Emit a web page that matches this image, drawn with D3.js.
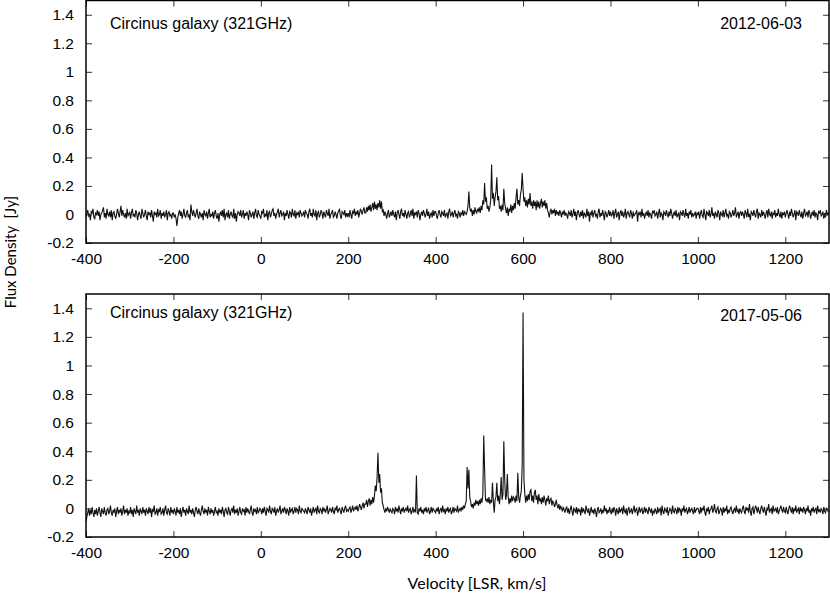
<!DOCTYPE html>
<html>
<head>
<meta charset="utf-8">
<script src="https://cdn.jsdelivr.net/npm/d3@7"></script>
<style>
  body { margin: 0; background: #fff; }
  svg { display: block; }
  .tick text { font-family: "Liberation Sans", Arial, sans-serif; font-size: 15.5px; fill: #000; }
  .tick line { stroke: #333; }
</style>
</head>
<body>
<div id="chart"></div>
<script>
// channel grid of both spectra (km/s)
const velocityStart = -400
const velocityStep = 2

// flux density, in units of 0.01 Jy, one value per 2 km/s channel
// each line is 20 km/s, each block 100 km/s
const flux2012 = [
  -2,1,3,-1,0,-4,2,1,4,-2,
  -3,1,0,3,-1,2,-4,0,1,3,
  5,-2,1,-3,4,0,-1,2,-2,3,
  -4,1,2,-1,-3,0,4,1,-2,2,
  6,-1,3,0,-2,1,-3,4,-1,0,

  2,-3,1,4,-1,0,-2,3,1,-4,
  0,2,-1,-3,4,1,-2,0,3,-1,
  -4,2,0,1,-2,3,-1,-5,2,0,
  1,-2,4,-1,0,3,-3,1,-1,2,
  -2,0,3,-4,1,2,-1,0,-3,1,

  1,-2,0,-3,-8,-2,1,3,-1,2,
  -3,0,4,-1,-2,1,3,-2,0,-4,
  7,2,-1,3,0,-2,1,4,-1,-3,
  2,0,-2,1,-4,3,0,-1,2,-3,
  1,4,-2,0,-1,2,-3,1,3,-1,

  -3,1,-5,0,2,-1,3,-2,4,-4,
  0,1,-2,3,-3,0,2,-1,-2,4,
  -3,1,-5,0,2,1,-1,3,-2,0,
  3,-3,1,-1,2,0,-4,3,1,-2,
  0,2,-3,1,4,-1,-2,3,0,-1,

  -3,2,1,4,-2,0,-1,3,-4,1,
  2,-2,0,3,4,-1,1,-3,0,2,
  4,-2,1,3,-1,0,2,-4,1,-1,
  3,0,-3,2,1,-2,4,0,-1,3,
  -3,1,0,2,-2,3,1,-1,0,2,

  -2,3,1,0,-3,2,4,-1,1,-2,
  4,0,-1,3,-4,1,2,-2,0,3,
  1,-3,2,0,-2,3,1,-1,4,-3,
  0,1,3,-2,-1,2,0,-3,1,2,
  4,-1,-3,2,1,0,3,-2,1,-1,

  1,-2,3,0,-3,2,1,4,-1,2,
  0,3,-2,1,4,2,0,3,5,1,
  1,5,2,6,3,7,2,5,8,3,
  9,4,7,3,8,5,10,4,9,2,
  3,-1,2,0,-3,1,3,-2,0,2,

  -1,3,0,-2,2,-4,1,3,0,-3,
  2,4,-1,1,-2,3,0,-3,1,2,
  -2,0,3,-1,4,-3,1,0,2,-2,
  3,1,-4,0,2,-1,3,1,-2,0,
  4,-1,2,-3,0,1,-2,3,-1,2,

  2,-1,-3,1,3,0,-2,2,1,-1,
  3,-2,0,1,-3,2,4,-1,0,2,
  -2,1,3,-1,0,-3,2,1,-2,1,
  0,3,-1,2,1,0,2,6,16,5,
  2,4,-1,3,0,5,2,1,4,2,

  5,1,6,3,10,7,22,9,12,4,
  6,2,5,10,35,11,15,6,12,16,
  26,10,13,4,6,2,7,3,18,8,
  4,1,5,-1,4,2,7,1,6,3,
  8,4,12,18,7,10,6,14,17,29,

  18,9,12,6,10,5,11,7,15,6,
  9,4,10,6,9,3,10,5,9,4,
  8,11,5,9,6,10,4,8,3,1,
  -2,2,4,0,3,1,4,-1,3,0,
  2,-1,3,1,-2,2,0,3,-1,1,

  0,-3,2,1,-1,3,-2,0,4,-1,
  2,-4,1,3,0,-2,2,-1,3,-3,
  1,0,-2,4,-1,2,-5,1,0,3,
  -2,1,3,-1,0,-3,2,4,-2,1,
  -1,3,0,-4,2,1,-2,0,3,-1,

  2,-1,0,3,-3,1,4,-2,0,2,
  -4,1,3,-1,2,-2,0,4,-3,1,
  2,0,-2,3,1,-3,2,-1,0,1,
  3,-5,1,0,2,-2,4,-1,1,-3,
  0,2,-1,3,-2,1,0,-3,2,1,

  3,-1,0,2,-3,1,4,-2,1,0,
  -4,2,1,-1,3,0,-2,2,-1,4,
  1,-3,0,2,-1,3,-2,0,1,-4,
  2,1,-1,3,0,-2,4,-1,1,-3,
  2,0,3,-2,1,-1,0,2,-3,1,

  0,2,-3,1,3,-1,-2,4,0,-4,
  2,1,-1,3,-2,0,5,-1,1,-3,
  2,0,-2,3,1,-4,2,0,-1,3,
  -2,1,4,-1,0,-3,2,1,-2,0,
  3,-1,1,5,-2,0,2,-3,1,2,

  -1,2,0,-3,3,1,-2,4,-1,0,
  -4,2,1,-1,3,0,-2,2,4,-3,
  1,0,-2,3,-1,2,0,-3,1,3,
  -2,4,0,-1,2,-3,1,0,3,-2,
  1,-1,4,0,-2,2,-3,1,0,2,

  -2,1,3,0,-3,2,-1,4,1,-2,
  0,3,-4,2,1,-1,3,0,-2,2,
  -3,1,4,-1,0,2,-2,3,1,-3,
  0,2,-1,3,-2,1,0,-4,2,1,
  3,-1,0,2,-3,1,-2,3,0,1,

  0
]

const flux2017 = [
  -9,-6,-3,0,-5,-1,-4,1,-3,-6,
  -1,-4,0,-5,-2,1,-3,-6,0,-2,
  -4,1,-3,-5,-1,0,-4,-2,2,-3,
  -5,-1,-3,0,-6,-2,1,-4,-1,-3,
  0,-5,-2,2,-4,-1,-3,0,-5,-2,

  -3,1,-4,-1,-6,0,-2,-4,2,-3,
  -1,-5,0,-2,-4,1,-3,-1,-5,0,
  -2,-4,1,-3,0,-6,-1,-2,2,-4,
  -3,0,-5,-1,-2,1,-4,-3,0,-5,
  -1,2,-3,-4,0,-2,-5,1,-3,-1,

  -4,0,-2,-5,1,-3,-1,-4,0,-6,
  -2,1,-3,-1,-5,0,-2,-4,2,-3,
  -1,-4,0,-3,-6,-1,1,-2,-4,0,
  -3,-5,-1,2,-2,-4,0,-3,-1,-5,
  1,-2,-4,0,-3,-1,-5,-2,1,-3,

  -2,-5,0,-3,-1,-4,1,-2,-6,-1,
  0,-3,-4,1,-2,-5,-1,0,-3,2,
  -4,-1,-3,0,-5,-2,1,-3,-4,0,
  -2,-1,-5,1,-3,0,-2,-4,-1,2,
  -3,-5,0,-2,-1,-4,1,-3,-2,0,

  -1,-4,0,-3,1,-2,-5,0,-1,-3,
  2,-2,-4,0,-1,-3,1,-5,-2,0,
  -3,-1,2,-4,-2,0,-3,1,-1,-4,
  0,-2,-5,1,-3,-1,0,-4,-2,1,
  -3,0,-1,-4,2,-2,-3,0,-1,-2,

  -3,0,-2,-4,1,-1,-3,0,-5,-2,
  1,-3,-1,0,-4,2,-2,-3,0,-1,
  -4,1,-2,0,-3,-1,2,-4,-2,0,
  -1,-3,1,-2,-4,0,-1,2,-3,-1,
  0,-2,-4,1,-1,-3,0,2,-2,-1,

  -2,0,1,-3,-1,2,-2,0,1,-1,
  2,-2,0,3,1,-1,2,4,0,3,
  3,6,1,5,7,2,6,3,8,4,
  9,16,12,22,39,18,24,11,14,4,
  2,-1,-3,0,-2,1,-1,-3,0,-2,

  -3,0,-1,-4,1,-2,0,-3,2,-1,
  -4,0,-2,1,-3,-1,0,-2,2,-3,
  -1,0,-4,-2,1,-3,-1,-2,23,-3,
  -4,0,-2,1,-3,-1,-4,0,-2,1,
  -3,-1,0,-4,-2,1,-3,0,-1,-2,

  -3,0,-2,1,-4,-1,0,-3,2,-2,
  -1,-4,0,-2,1,-3,-1,0,-4,-2,
  1,-3,0,-1,-2,2,-3,-1,0,-2,
  1,-1,2,0,3,5,29,14,27,8,
  5,1,3,0,4,2,6,3,5,2,

  6,3,7,4,10,51,28,6,5,7,
  4,8,3,6,4,18,5,-3,6,8,
  18,5,9,3,10,22,6,10,47,20,
  6,9,24,8,3,7,4,9,5,8,
  7,4,9,5,25,8,4,9,12,30,

  137,20,10,4,9,5,10,6,12,13,
  5,9,4,11,13,6,9,3,10,5,
  7,3,8,4,9,6,2,7,5,9,
  3,6,7,2,5,4,1,3,6,2,
  0,3,-1,2,0,-2,1,-1,-3,0,

  1,-3,0,-4,-1,2,-2,-5,0,-1,
  -3,1,-4,0,-2,-1,-5,1,-3,0,
  -2,-4,2,-1,-3,0,-5,-2,1,-3,
  -1,-4,0,-2,-6,-1,1,-3,-2,0,
  -4,-1,-3,2,-2,0,-4,-1,-3,1,

  -2,-4,0,-3,1,-1,-5,0,-2,-4,
  1,-3,-1,0,-4,2,-2,-3,0,-5,
  -1,1,-3,-2,0,-4,-1,2,-3,-1,
  0,-5,-2,1,-3,-1,0,-4,-2,1,
  -3,0,-2,-4,1,-1,-3,0,-5,-2,

  -3,0,-2,-4,1,-3,-1,0,-5,2,
  -2,-4,0,-1,-3,1,-5,-2,0,-1,
  -4,2,-2,-3,0,-1,-4,1,-3,0,
  -1,-5,0,-2,2,-3,-1,0,-4,-2,
  1,-3,-1,0,-2,-4,1,-3,-1,0,

  0,-2,-4,1,-3,0,-1,2,-3,-5,
  0,-2,1,-4,-1,0,2,-3,-1,3,
  -2,-3,0,1,-4,-2,0,-1,-5,1,
  -3,0,-2,2,-4,-1,-3,0,1,-2,
  -4,-1,0,-3,2,-2,-1,-4,0,-2,

  -3,0,2,-2,-4,1,-1,0,-3,3,
  -2,-5,0,1,-4,-1,2,0,-3,1,
  -2,-4,0,2,-1,-3,1,-2,-5,0,
  -1,3,-3,-1,0,-4,2,-2,-1,0,
  -3,1,-4,-2,0,2,-1,-3,1,-2,

  -3,1,-2,-4,0,2,-1,-3,1,-4,
  0,-2,2,-3,-1,0,-4,1,-2,0,
  -3,1,-1,-4,0,-2,2,-3,-1,-5,
  0,-2,1,-3,-1,0,-4,2,-2,-1,
  -3,0,-1,-4,1,-2,-3,0,-1,-2,

  -2
]

const xTicks = [-400, -200, 0, 200, 400, 600, 800, 1000, 1200]
const yTicks = [-0.2, 0, 0.2, 0.4, 0.6, 0.8, 1, 1.2, 1.4]
const panelTitles = ['Circinus galaxy (321GHz)', 'Circinus galaxy (321GHz)']
const panelDates = ['2012-06-03', '2017-05-06']

const width = 830
const height = 596
const left = 86, right = 829
const panels = [
  { top: 0.5, bottom: 243, flux: flux2012, title: panelTitles[0], date: panelDates[0], titleY: 29, dateY: 29 },
  { top: 294, bottom: 537, flux: flux2017, title: panelTitles[1], date: panelDates[1], titleY: 318, dateY: 321 }
]

const svg = d3.select('#chart').append('svg')
  .attr('width', width)
  .attr('height', height)

const x = d3.scaleLinear().domain([-400, 1300]).range([left, right])

panels.forEach((p, pi) => {
  const y = d3.scaleLinear().domain([-0.2, 1.5]).range([p.bottom, p.top])
  const g = svg.append('g')

  // clip so the spectrum stays in the frame
  g.append('clipPath').attr('id', 'clip' + pi)
    .append('rect')
      .attr('x', left).attr('y', p.top)
      .attr('width', right - left).attr('height', p.bottom - p.top)

  const points = p.flux.map((f, i) => ({ v: velocityStart + i * velocityStep, f: f / 100 }))
  const line = d3.line().x(d => x(d.v)).y(d => y(d.f))

  g.append('path')
    .datum(points)
    .attr('clip-path', 'url(#clip' + pi + ')')
    .attr('fill', 'none')
    .attr('stroke', '#111')
    .attr('stroke-width', 1.1)
    .attr('d', line)

  // ticks on all four sides, pointing inward
  const fmt = d => String(+d.toFixed(1))
  g.append('g')
    .attr('transform', 'translate(0,' + p.bottom + ')')
    .call(d3.axisBottom(x).tickValues(xTicks).tickFormat(fmt).tickSize(-6).tickSizeOuter(0).tickPadding(10))
  g.append('g')
    .attr('transform', 'translate(0,' + p.top + ')')
    .call(d3.axisTop(x).tickValues(xTicks).tickFormat('').tickSize(-6).tickSizeOuter(0))
  g.append('g')
    .attr('transform', 'translate(' + left + ',0)')
    .call(d3.axisLeft(y).tickValues(yTicks).tickFormat(fmt).tickSize(-6).tickSizeOuter(0).tickPadding(12))
  g.append('g')
    .attr('transform', 'translate(' + right + ',0)')
    .call(d3.axisRight(y).tickValues(yTicks).tickFormat('').tickSize(-6).tickSizeOuter(0))
  g.selectAll('.domain').remove()

  g.append('rect')
    .attr('x', left).attr('y', p.top)
    .attr('width', right - left).attr('height', p.bottom - p.top)
    .attr('fill', 'none')
    .attr('stroke', '#000')
    .attr('stroke-width', 1.5)

  g.append('text')
    .attr('x', 110).attr('y', p.titleY)
    .style('font-family', '"Liberation Sans", Arial, sans-serif')
    .style('font-size', '16px')
    .text(p.title)
  g.append('text')
    .attr('x', 802).attr('y', p.dateY)
    .attr('text-anchor', 'end')
    .style('font-family', '"Liberation Sans", Arial, sans-serif')
    .style('font-size', '16px')
    .text(p.date)
})

svg.append('text')
  .attr('x', 477).attr('y', 589)
  .attr('text-anchor', 'middle')
  .style('font-family', 'Lato, sans-serif')
  .style('font-size', '16px')
  .text('Velocity [LSR, km/s]')

svg.append('text')
  .attr('transform', 'translate(16,252) rotate(-90)')
  .attr('text-anchor', 'middle')
  .style('font-family', 'Lato, sans-serif')
  .style('font-size', '15px')
  .style('white-space', 'pre')
  .text('Flux Density  [Jy]')
</script>
</body>
</html>
